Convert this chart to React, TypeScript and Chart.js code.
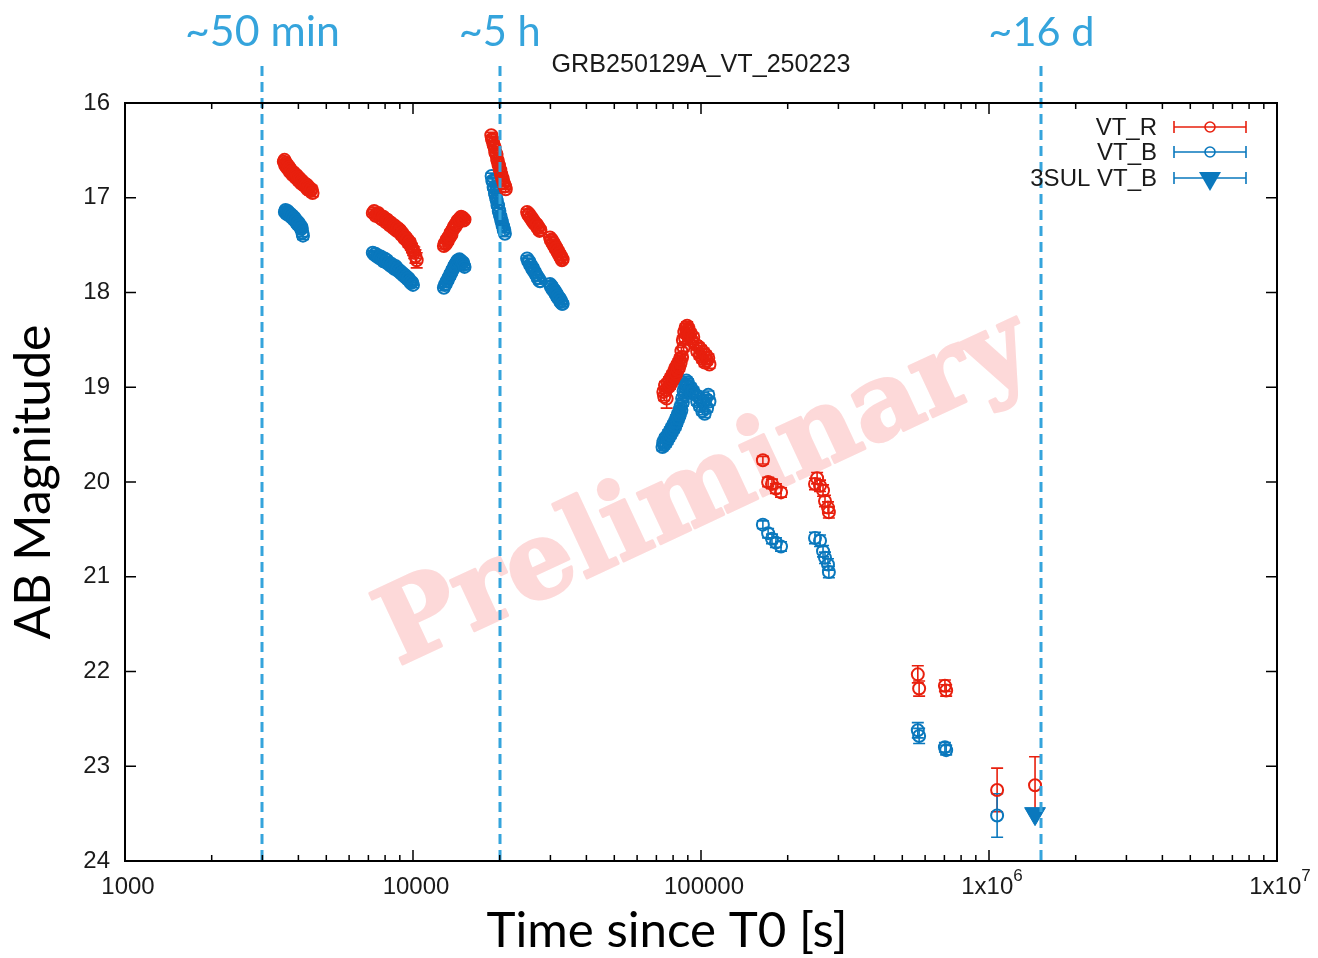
import React, { useEffect, useRef } from 'react';
import { Chart, registerables } from 'chart.js';

Chart.register(...registerables);

const W = 1318;
const H = 958;

// VT R-band photometry: time since T0 [s], AB magnitude, 1-sigma error (one line per epoch)
const rTime = [
  3560, 3580, 3600, 3620, 3640, 3660, 3680, 3700, 3720, 3740, 3760, 3790, 3820, 3850, 3880, 3910, 3940, 3970, 4000, 4030, 4060, 4090, 4120, 4150, 4180, 4210, 4240, 4270, 4300, 4330, 4360, 4400, 4440, 4480,
  7250, 7330, 7410, 7490, 7570, 7650, 7730, 7810, 7890, 7970, 8050, 8130, 8210, 8290, 8370, 8450, 8530, 8610, 8690, 8770, 8850, 8930, 9010, 9090, 9170, 9250, 9330, 9410, 9490, 9570, 9650, 9740, 9830, 9920, 10010, 10100, 10200, 10300,
  12800, 12900, 13000, 13100, 13200, 13300, 13400, 13500, 13600, 13700, 13800, 13900, 14000, 14100, 14200, 14300, 14400, 14500, 14600, 14700, 14800, 14900, 15000, 15100,
  18700, 18800, 18900, 19000, 19100, 19200, 19300, 19400, 19500, 19600, 19700, 19800, 19900, 20000, 20100, 20200, 20300, 20400, 20500, 20600, 20700, 20800, 20900, 21000,
  24900, 25100, 25300, 25500, 25700, 25900, 26100, 26300, 26500, 26700, 26900, 27100, 27300, 27500, 27700,
  29900, 30100, 30300, 30500, 30700, 30900, 31100, 31300, 31500, 31700, 31900, 32100, 32300, 32500, 32700, 32900, 33100,
  74000, 74500, 75000, 75500, 76000, 76500, 77000, 77500, 78000, 78500, 79000, 79500, 80000, 80500, 81000, 81500, 82000, 82500, 83000, 83500,
  84000, 84500, 85000, 85500, 86000, 86500, 87000, 87500, 88000, 88500, 89000, 89500, 90000, 90500, 91000, 92000, 93000, 94000,
  96000, 97000, 98000, 99000, 100000, 101000, 102000, 103000, 104000, 105000, 106000, 107000,
  164000, 171000, 176400, 182100, 189600,
  248800, 253000, 259000, 265300, 269500, 276000, 278000,
  566000, 572000, 703000, 710000,
  1067000, 1445000,
];
const rMag = [
  16.62, 16.60, 16.66, 16.63, 16.65, 16.69, 16.66, 16.70, 16.68, 16.73, 16.70, 16.72, 16.76, 16.73, 16.75, 16.79, 16.76, 16.78, 16.82, 16.79, 16.81, 16.85, 16.82, 16.84, 16.87, 16.85, 16.88, 16.86, 16.91, 16.88, 16.90, 16.93, 16.91, 16.95,
  17.16, 17.14, 17.19, 17.17, 17.16, 17.21, 17.19, 17.23, 17.20, 17.22, 17.26, 17.23, 17.25, 17.29, 17.26, 17.28, 17.32, 17.29, 17.31, 17.35, 17.32, 17.36, 17.34, 17.39, 17.37, 17.40, 17.43, 17.41, 17.45, 17.44, 17.48, 17.47, 17.51, 17.53, 17.56, 17.58, 17.62, 17.66,
  17.51, 17.48, 17.49, 17.44, 17.46, 17.41, 17.42, 17.37, 17.39, 17.34, 17.33, 17.30, 17.31, 17.27, 17.28, 17.24, 17.25, 17.22, 17.23, 17.20, 17.22, 17.21, 17.24, 17.23,
  16.34, 16.38, 16.39, 16.43, 16.45, 16.47, 16.52, 16.53, 16.55, 16.60, 16.61, 16.65, 16.66, 16.70, 16.71, 16.75, 16.76, 16.80, 16.80, 16.84, 16.85, 16.88, 16.88, 16.91,
  17.15, 17.18, 17.17, 17.21, 17.20, 17.24, 17.23, 17.27, 17.26, 17.29, 17.28, 17.32, 17.31, 17.35, 17.34,
  17.42, 17.45, 17.44, 17.48, 17.47, 17.51, 17.50, 17.54, 17.53, 17.57, 17.56, 17.60, 17.59, 17.63, 17.62, 17.66, 17.65,
  19.05, 19.10, 18.98, 19.03, 19.12, 18.96, 19.00, 18.93, 18.98, 18.90, 18.95, 18.87, 18.92, 18.84, 18.89, 18.80, 18.86, 18.77, 18.82, 18.74,
  18.79, 18.70, 18.74, 18.62, 18.68, 18.50, 18.58, 18.42, 18.48, 18.37, 18.44, 18.35, 18.41, 18.38, 18.46, 18.43, 18.51, 18.47,
  18.55, 18.62, 18.57, 18.66, 18.60, 18.70, 18.63, 18.74, 18.66, 18.72, 18.69, 18.76,
  19.77, 20.00, 20.02, 20.07, 20.11,
  20.02, 19.96, 20.04, 20.09, 20.20, 20.27, 20.32,
  22.03, 22.18, 22.15, 22.20,
  23.25, 23.20,
];
const rErr = [
  0.02, 0.02, 0.02, 0.02, 0.02, 0.02, 0.02, 0.02, 0.02, 0.02, 0.02, 0.02, 0.02, 0.02, 0.02, 0.02, 0.02, 0.02, 0.02, 0.02, 0.03, 0.03, 0.03, 0.03, 0.03, 0.03, 0.03, 0.03, 0.03, 0.03, 0.04, 0.04, 0.04, 0.04,
  0.02, 0.02, 0.02, 0.02, 0.02, 0.02, 0.02, 0.02, 0.02, 0.02, 0.02, 0.02, 0.02, 0.02, 0.02, 0.03, 0.03, 0.03, 0.03, 0.03, 0.03, 0.03, 0.03, 0.03, 0.03, 0.03, 0.03, 0.03, 0.03, 0.03, 0.04, 0.04, 0.04, 0.05, 0.05, 0.06, 0.07, 0.08,
  0.03, 0.03, 0.03, 0.03, 0.03, 0.03, 0.03, 0.03, 0.03, 0.03, 0.03, 0.03, 0.03, 0.03, 0.03, 0.03, 0.03, 0.03, 0.03, 0.03, 0.03, 0.03, 0.03, 0.03,
  0.03, 0.03, 0.03, 0.03, 0.03, 0.03, 0.03, 0.03, 0.03, 0.03, 0.03, 0.03, 0.03, 0.03, 0.03, 0.03, 0.03, 0.03, 0.03, 0.03, 0.03, 0.03, 0.03, 0.03,
  0.03, 0.03, 0.03, 0.03, 0.03, 0.03, 0.03, 0.03, 0.03, 0.03, 0.03, 0.03, 0.03, 0.03, 0.03,
  0.03, 0.03, 0.03, 0.03, 0.03, 0.03, 0.03, 0.03, 0.03, 0.03, 0.03, 0.03, 0.03, 0.03, 0.03, 0.03, 0.03,
  0.04, 0.04, 0.04, 0.04, 0.10, 0.04, 0.04, 0.04, 0.04, 0.04, 0.04, 0.04, 0.04, 0.04, 0.04, 0.04, 0.04, 0.04, 0.04, 0.04,
  0.04, 0.04, 0.04, 0.04, 0.04, 0.04, 0.04, 0.04, 0.04, 0.04, 0.04, 0.04, 0.04, 0.04, 0.04, 0.04, 0.04, 0.04,
  0.04, 0.04, 0.04, 0.04, 0.04, 0.04, 0.04, 0.04, 0.04, 0.04, 0.04, 0.04,
  0.04, 0.05, 0.05, 0.05, 0.05,
  0.06, 0.06, 0.06, 0.06, 0.06, 0.06, 0.06,
  0.09, 0.08, 0.06, 0.06,
  0.23, 0.30,
];

// VT B-band photometry
const bTime = [
  3590, 3610, 3630, 3650, 3670, 3690, 3710, 3730, 3760, 3790, 3820, 3850, 3880, 3910, 3940, 3970, 4000, 4030, 4060, 4090, 4110, 4130, 4150,
  7250, 7330, 7410, 7490, 7570, 7650, 7730, 7810, 7890, 7970, 8050, 8130, 8210, 8290, 8370, 8450, 8530, 8610, 8690, 8770, 8850, 8930, 9010, 9090, 9170, 9250, 9330, 9410, 9490, 9570, 9650, 9740, 9830, 9920, 10000,
  12800, 12900, 13000, 13100, 13200, 13300, 13400, 13500, 13600, 13700, 13800, 13900, 14000, 14100, 14200, 14300, 14400, 14500, 14600, 14700, 14800, 14900, 15000, 15100,
  18750, 18850, 18950, 19050, 19150, 19250, 19350, 19450, 19550, 19650, 19750, 19850, 19950, 20050, 20150, 20250, 20350, 20450, 20550, 20650, 20750, 20850,
  24900, 25100, 25300, 25500, 25700, 25900, 26100, 26300, 26500, 26700, 26900, 27100, 27300, 27500, 27700,
  29900, 30100, 30300, 30500, 30700, 30900, 31100, 31300, 31500, 31700, 31900, 32100, 32300, 32500, 32700, 32900, 33100,
  73500, 74000, 74500, 75000, 75500, 76000, 76500, 77000, 77500, 78000, 78500, 79000, 79500, 80000, 80500, 81000, 81500, 82000, 82500, 83000,
  83500, 84000, 84500, 85000, 85500, 86000, 86500, 87000, 87500, 88000, 88500, 89000, 89500, 90000, 91000, 92000, 93000, 94000,
  96000, 97000, 98000, 99000, 100000, 101000, 102000, 103000, 104000, 105000, 106000, 107000,
  164000, 171000, 176400, 182100, 189600,
  248800, 259000, 265300, 269500, 276000, 278000,
  566000, 572000, 703000, 710000,
  1067000,
];
const bMag = [
  17.15, 17.13, 17.17, 17.15, 17.14, 17.18, 17.16, 17.19, 17.17, 17.21, 17.19, 17.23, 17.21, 17.25, 17.24, 17.28, 17.26, 17.30, 17.29, 17.33, 17.32, 17.37, 17.40,
  17.58, 17.60, 17.59, 17.62, 17.61, 17.64, 17.62, 17.65, 17.67, 17.64, 17.68, 17.66, 17.70, 17.69, 17.72, 17.70, 17.73, 17.75, 17.72, 17.76, 17.75, 17.78, 17.77, 17.80, 17.79, 17.82, 17.81, 17.84, 17.83, 17.86, 17.85, 17.88, 17.90, 17.89, 17.92,
  17.95, 17.92, 17.91, 17.88, 17.87, 17.84, 17.83, 17.80, 17.79, 17.76, 17.75, 17.72, 17.71, 17.69, 17.68, 17.66, 17.67, 17.65, 17.66, 17.67, 17.69, 17.68, 17.71, 17.73,
  16.77, 16.82, 16.83, 16.89, 16.90, 16.95, 16.97, 17.01, 17.03, 17.08, 17.08, 17.14, 17.14, 17.19, 17.20, 17.24, 17.25, 17.29, 17.30, 17.34, 17.34, 17.38,
  17.64, 17.67, 17.67, 17.71, 17.71, 17.75, 17.74, 17.78, 17.78, 17.81, 17.82, 17.85, 17.85, 17.88, 17.88,
  17.91, 17.94, 17.93, 17.97, 17.96, 17.99, 17.98, 18.02, 18.01, 18.05, 18.04, 18.07, 18.06, 18.10, 18.09, 18.12, 18.12,
  19.63, 19.58, 19.61, 19.54, 19.59, 19.52, 19.56, 19.49, 19.53, 19.46, 19.50, 19.43, 19.47, 19.40, 19.44, 19.37, 19.41, 19.33, 19.37, 19.29,
  19.33, 19.25, 19.29, 19.20, 19.24, 19.12, 19.16, 19.04, 19.08, 18.97, 19.01, 18.93, 18.98, 18.95, 19.02, 19.00, 19.06, 19.04,
  19.08, 19.15, 19.10, 19.20, 19.13, 19.25, 19.17, 19.28, 19.12, 19.22, 19.08, 19.15,
  20.45, 20.54, 20.60, 20.64, 20.68,
  20.59, 20.62, 20.73, 20.80, 20.87, 20.95,
  22.62, 22.68, 22.80, 22.83,
  23.52,
];
const bErr = [
  0.02, 0.02, 0.02, 0.02, 0.02, 0.02, 0.02, 0.02, 0.02, 0.02, 0.02, 0.02, 0.02, 0.02, 0.03, 0.03, 0.03, 0.03, 0.03, 0.03, 0.04, 0.04, 0.04,
  0.02, 0.02, 0.02, 0.02, 0.02, 0.02, 0.02, 0.02, 0.02, 0.02, 0.02, 0.02, 0.02, 0.02, 0.02, 0.03, 0.03, 0.03, 0.03, 0.03, 0.03, 0.03, 0.03, 0.03, 0.03, 0.03, 0.03, 0.03, 0.03, 0.03, 0.03, 0.03, 0.03, 0.03, 0.03,
  0.03, 0.03, 0.03, 0.03, 0.03, 0.03, 0.03, 0.03, 0.03, 0.03, 0.03, 0.03, 0.03, 0.03, 0.03, 0.03, 0.03, 0.03, 0.03, 0.03, 0.03, 0.03, 0.03, 0.03,
  0.03, 0.03, 0.03, 0.03, 0.03, 0.03, 0.03, 0.03, 0.03, 0.03, 0.03, 0.03, 0.03, 0.03, 0.03, 0.03, 0.03, 0.03, 0.03, 0.03, 0.03, 0.03,
  0.03, 0.03, 0.03, 0.03, 0.03, 0.03, 0.03, 0.03, 0.03, 0.03, 0.03, 0.03, 0.03, 0.03, 0.03,
  0.03, 0.03, 0.03, 0.03, 0.03, 0.03, 0.03, 0.03, 0.03, 0.03, 0.03, 0.03, 0.03, 0.03, 0.03, 0.03, 0.03,
  0.04, 0.04, 0.04, 0.04, 0.04, 0.04, 0.04, 0.04, 0.04, 0.04, 0.04, 0.04, 0.04, 0.04, 0.04, 0.04, 0.04, 0.04, 0.04, 0.04,
  0.04, 0.04, 0.04, 0.04, 0.04, 0.04, 0.04, 0.04, 0.04, 0.04, 0.04, 0.04, 0.04, 0.04, 0.04, 0.04, 0.04, 0.04,
  0.04, 0.04, 0.04, 0.04, 0.04, 0.04, 0.04, 0.04, 0.04, 0.04, 0.04, 0.04,
  0.04, 0.05, 0.05, 0.05, 0.05,
  0.06, 0.06, 0.06, 0.06, 0.06, 0.06,
  0.08, 0.08, 0.05, 0.05,
  0.23,
];

// 3-sigma upper limit in B
const ulTime = [1445000];
const ulMag = [23.5];

const yTicks = [16, 17, 18, 19, 20, 21, 22, 23, 24];
const xDecades = [1000, 10000, 100000, 1000000, 10000000];
const xTickLabels = ['1000', '10000', '100000', '1x10^6', '1x10^7'];
const markerTimes = [3000, 20000, 1520000];
const markerLabels = ['~50 min', '~5 h', '~16 d'];
const legendLabels = ['VT_R', 'VT_B', '3SUL VT_B'];

const TITLE = 'GRB250129A_VT_250223';
const X_TITLE = 'Time since T0 [s]';
const Y_TITLE = 'AB Magnitude';
const WATERMARK = 'Preliminary';

const RED = '#e8200e';
const BLUE = '#0a78bd';
const GUIDE = '#35a4dc';
const INK = '#1a1a1a';
const SANS = '"Liberation Sans", Arial, sans-serif';
const HUMANIST = 'Lato, "Open Sans", sans-serif';

function fitSize(ctx: CanvasRenderingContext2D, text: string, weight: string, family: string, width: number) {
  ctx.font = `${weight} 100px ${family}`;
  return (100 * width) / ctx.measureText(text).width;
}

const decorPlugin = {
  id: 'decor',
  beforeDatasetsDraw(chart: any) {
    const { ctx, chartArea: a } = chart;
    const xs = chart.scales.x;
    const ys = chart.scales.y;

    // watermark behind the data
    ctx.save();
    const size = fitSize(ctx, WATERMARK, 'bold', '"DejaVu Serif", serif', 705);
    ctx.translate((a.left + a.right) / 2 + 5, (a.top + a.bottom) / 2 + 10);
    ctx.rotate((-25 * Math.PI) / 180);
    ctx.font = `bold ${size}px "DejaVu Serif", serif`;
    ctx.fillStyle = '#fdd9d9';
    ctx.strokeStyle = '#fdd9d9';
    ctx.lineWidth = 3;
    ctx.lineJoin = 'round';
    ctx.textAlign = 'center';
    ctx.textBaseline = 'middle';
    ctx.strokeText(WATERMARK, 0, 0);
    ctx.fillText(WATERMARK, 0, 0);
    ctx.restore();

    // vertical error bars
    ctx.save();
    ctx.lineWidth = 1.6;
    chart.data.datasets.forEach((ds: any) => {
      const errs: number[] | undefined = ds.errorBars;
      if (!errs) return;
      ctx.strokeStyle = ds.borderColor;
      ds.data.forEach((p: any, i: number) => {
        const px = xs.getPixelForValue(p.x);
        const y1 = ys.getPixelForValue(p.y - errs[i]);
        const y2 = ys.getPixelForValue(p.y + errs[i]);
        ctx.beginPath();
        ctx.moveTo(px, y1);
        ctx.lineTo(px, y2);
        ctx.moveTo(px - 6, y1);
        ctx.lineTo(px + 6, y1);
        ctx.moveTo(px - 6, y2);
        ctx.lineTo(px + 6, y2);
        ctx.stroke();
      });
    });
    ctx.restore();
  },
  afterDatasetsDraw(chart: any) {
    const { ctx, chartArea: a } = chart;
    const xs = chart.scales.x;
    ctx.save();
    ctx.strokeStyle = GUIDE;
    ctx.lineWidth = 3;
    ctx.setLineDash([10, 6]);
    markerTimes.forEach((t) => {
      const px = Math.round(xs.getPixelForValue(t));
      ctx.beginPath();
      ctx.moveTo(px, 66);
      ctx.lineTo(px, a.bottom);
      ctx.stroke();
    });
    ctx.restore();
  },
  afterDraw(chart: any) {
    const { ctx, chartArea: a } = chart;
    const xs = chart.scales.x;
    const ys = chart.scales.y;
    ctx.save();

    // frame
    ctx.strokeStyle = '#000';
    ctx.lineWidth = 2;
    ctx.strokeRect(a.left, a.top, a.right - a.left, a.bottom - a.top);

    // y ticks, mirrored
    ctx.lineWidth = 1.5;
    ctx.beginPath();
    yTicks.forEach((v) => {
      const py = ys.getPixelForValue(v);
      ctx.moveTo(a.left, py);
      ctx.lineTo(a.left + 11, py);
      ctx.moveTo(a.right, py);
      ctx.lineTo(a.right - 11, py);
    });
    // x major and minor ticks, mirrored
    for (let d = 0; d < xDecades.length; d++) {
      const base = xDecades[d];
      const px = xs.getPixelForValue(base);
      ctx.moveTo(px, a.bottom);
      ctx.lineTo(px, a.bottom - 11);
      ctx.moveTo(px, a.top);
      ctx.lineTo(px, a.top + 11);
      if (d < xDecades.length - 1) {
        for (let m = 2; m <= 9; m++) {
          const mx = xs.getPixelForValue(base * m);
          ctx.moveTo(mx, a.bottom);
          ctx.lineTo(mx, a.bottom - 6);
          ctx.moveTo(mx, a.top);
          ctx.lineTo(mx, a.top + 6);
        }
      }
    }
    ctx.stroke();

    // tick labels
    ctx.fillStyle = INK;
    ctx.font = `24px ${SANS}`;
    ctx.textAlign = 'right';
    ctx.textBaseline = 'middle';
    yTicks.forEach((v) => {
      ctx.fillText(String(v), a.left - 15, ys.getPixelForValue(v));
    });
    xDecades.forEach((v, i) => {
      const px = xs.getPixelForValue(v) + 3;
      const py = a.bottom + 26;
      const [base, sup] = xTickLabels[i].split('^');
      ctx.font = `24px ${SANS}`;
      const bw = ctx.measureText(base).width;
      let sw = 0;
      if (sup) {
        ctx.font = `17px ${SANS}`;
        sw = ctx.measureText(sup).width;
      }
      const start = px - (bw + sw) / 2;
      ctx.textAlign = 'left';
      ctx.font = `24px ${SANS}`;
      ctx.fillText(base, start, py);
      if (sup) {
        ctx.font = `17px ${SANS}`;
        ctx.fillText(sup, start + bw, py - 11);
      }
    });

    // plot title
    ctx.textAlign = 'center';
    ctx.textBaseline = 'middle';
    ctx.font = `${fitSize(ctx, TITLE, 'normal', SANS, 299)}px ${SANS}`;
    ctx.fillText(TITLE, 701, 65);

    // legend
    const rows = [
      { label: legendLabels[0], color: RED, kind: 'circle', y: 127 },
      { label: legendLabels[1], color: BLUE, kind: 'circle', y: 152 },
      { label: legendLabels[2], color: BLUE, kind: 'triangle', y: 178 },
    ];
    rows.forEach((r) => {
      ctx.fillStyle = INK;
      ctx.font = `24px ${SANS}`;
      ctx.textAlign = 'right';
      ctx.textBaseline = 'middle';
      ctx.fillText(r.label, 1157, r.y + 1);
      ctx.strokeStyle = r.color;
      ctx.lineWidth = 1.6;
      ctx.beginPath();
      ctx.moveTo(1174, r.y);
      ctx.lineTo(1246, r.y);
      ctx.moveTo(1174, r.y - 6);
      ctx.lineTo(1174, r.y + 6);
      ctx.moveTo(1246, r.y - 6);
      ctx.lineTo(1246, r.y + 6);
      ctx.stroke();
      if (r.kind === 'circle') {
        ctx.beginPath();
        ctx.arc(1210, r.y, 5, 0, Math.PI * 2);
        ctx.stroke();
      } else {
        ctx.fillStyle = r.color;
        ctx.beginPath();
        ctx.moveTo(1199, r.y - 6);
        ctx.lineTo(1221, r.y - 6);
        ctx.lineTo(1210, r.y + 13);
        ctx.closePath();
        ctx.fill();
      }
    });

    // guide labels above the frame
    ctx.fillStyle = GUIDE;
    ctx.textAlign = 'center';
    ctx.textBaseline = 'alphabetic';
    const guideWidths = [155, 82, 106];
    markerTimes.forEach((t, i) => {
      const px = xs.getPixelForValue(t);
      const s = fitSize(ctx, markerLabels[i], 'normal', HUMANIST, guideWidths[i]);
      ctx.font = `${s}px ${HUMANIST}`;
      ctx.fillText(markerLabels[i], px, 46);
    });

    // axis titles
    ctx.fillStyle = '#000';
    ctx.font = `${fitSize(ctx, X_TITLE, 'normal', HUMANIST, 361)}px ${HUMANIST}`;
    ctx.textAlign = 'center';
    ctx.fillText(X_TITLE, 667, 947);

    ctx.save();
    ctx.translate(50, 482);
    ctx.rotate(-Math.PI / 2);
    ctx.font = `${fitSize(ctx, Y_TITLE, 'normal', HUMANIST, 315)}px ${HUMANIST}`;
    ctx.fillText(Y_TITLE, 0, 0);
    ctx.restore();

    ctx.restore();
  },
};

export default function App() {
  const canvasRef = useRef<HTMLCanvasElement | null>(null);

  useEffect(() => {
    const canvas = canvasRef.current;
    if (!canvas) return;
    const chart = new Chart(canvas, {
      type: 'scatter',
      data: {
        datasets: [
          {
            label: legendLabels[0],
            data: rTime.map((t, i) => ({ x: t, y: rMag[i] })),
            errorBars: rErr,
            borderColor: RED,
            backgroundColor: 'rgba(0,0,0,0)',
            pointStyle: 'circle',
            pointRadius: 6,
            borderWidth: 2,
          } as any,
          {
            label: legendLabels[1],
            data: bTime.map((t, i) => ({ x: t, y: bMag[i] })),
            errorBars: bErr,
            borderColor: BLUE,
            backgroundColor: 'rgba(0,0,0,0)',
            pointStyle: 'circle',
            pointRadius: 6,
            borderWidth: 2,
          } as any,
          {
            label: legendLabels[2],
            data: ulTime.map((t, i) => ({ x: t, y: ulMag[i] })),
            borderColor: BLUE,
            backgroundColor: BLUE,
            pointStyle: 'triangle',
            rotation: 180,
            pointRadius: 12,
            borderWidth: 1,
          } as any,
        ],
      },
      options: {
        responsive: false,
        animation: false,
        devicePixelRatio: 1,
        events: [],
        layout: { padding: { left: 125, right: W - 1277, top: 103, bottom: H - 861 } },
        plugins: {
          legend: { display: false },
          tooltip: { enabled: false },
          title: { display: false },
        },
        scales: {
          x: { type: 'logarithmic', min: 1000, max: 10000000, display: false },
          y: { type: 'linear', min: 16, max: 24, reverse: true, display: false },
        },
      },
      plugins: [decorPlugin],
    });
    return () => chart.destroy();
  }, []);

  return (
    <div style={{ position: 'absolute', left: 0, top: 0, width: W, height: H, background: '#fff' }}>
      <canvas ref={canvasRef} width={W} height={H} style={{ display: 'block' }} />
    </div>
  );
}
